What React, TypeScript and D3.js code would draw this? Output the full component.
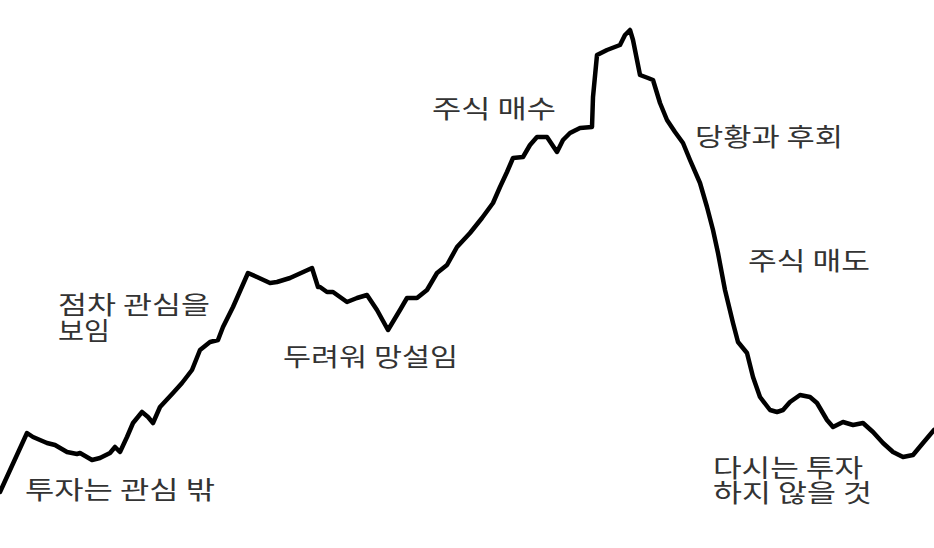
import React, { useEffect, useRef } from "react";
import * as d3 from "d3";

const W = 934;
const H = 548;

// price path (day, price)
const days = [
  0, 27, 33, 47, 55, 67, 77, 80, 92, 100, 110, 115, 120, 127, 133, 142, 148, 153, 160, 173,
  182, 192, 200, 210, 218, 223, 233, 248, 257, 270, 277, 290, 312, 318, 320, 327, 333, 347,
  357, 367, 377, 388, 400, 407, 417, 427, 437, 447, 457, 470, 482, 493, 500, 507, 513, 523,
  530, 537, 547, 557, 563, 570, 580, 592, 593, 597, 607, 620, 625, 630, 633, 640, 648, 653,
  660, 667, 675, 683, 690, 700, 707, 713, 718, 725, 733, 738, 747, 753, 760, 770, 777, 783,
  790, 800, 810, 817, 827, 833, 843, 853, 863, 873, 883, 893, 903, 913, 923, 934,
];
const prices = [
  56, 115, 111, 105, 103, 96, 94, 95, 88, 90, 95, 101, 96, 111, 125, 136, 131, 125, 141, 155,
  165, 178, 198, 206, 208, 221, 241, 275, 271, 265, 266, 270, 280, 261, 261, 256, 256, 246,
  250, 253, 238, 218, 238, 250, 250, 258, 275, 283, 301, 315, 330, 345, 361, 376, 390, 391,
  403, 411, 411, 396, 408, 415, 420, 421, 451, 493, 498, 503, 513, 518, 508, 473, 470, 468,
  445, 428, 416, 405, 388, 365, 341, 318, 295, 258, 225, 206, 195, 171, 151, 138, 136, 138,
  146, 153, 151, 145, 128, 121, 126, 123, 125, 116, 105, 96, 91, 93, 105, 118,
];

// annotations: text, anchor day, anchor price (baseline), text width in days
const noteText = [
  "투자는 관심 밖",
  "점차 관심을",
  "보임",
  "두려워 망설임",
  "주식 매수",
  "당황과 후회",
  "주식 매도",
  "다시는 투자",
  "하지 않을 것",
];
const noteDay = [25, 58, 58, 283, 432, 695, 748, 713, 713];
const notePrice = [49, 234, 208, 182, 430, 402, 278, 71, 46];
const noteSpan = [190, 152, 52, 175, 124, 148, 122, 150, 159];

export default function App() {
  const ref = useRef<SVGSVGElement | null>(null);

  useEffect(() => {
    if (!ref.current) return;
    const svg = d3.select(ref.current);
    svg.selectAll("*").remove();

    const x = d3.scaleLinear().domain([0, W]).range([0, W]);
    const y = d3.scaleLinear().domain([0, H]).range([H, 0]);

    svg.append("rect").attr("width", W).attr("height", H).attr("fill", "#fff");

    const pts = days.map((d, i) => [d, prices[i]] as [number, number]);
    const line = d3
      .line<[number, number]>()
      .x((d) => x(d[0]))
      .y((d) => y(d[1]));

    svg
      .append("path")
      .attr("d", line(pts))
      .attr("fill", "none")
      .attr("stroke", "#000")
      .attr("stroke-width", 4.5)
      .attr("stroke-linejoin", "round")
      .attr("stroke-linecap", "round");

    svg
      .selectAll("text.note")
      .data(noteText)
      .enter()
      .append("text")
      .attr("class", "note")
      .attr("x", (_, i) => x(noteDay[i]))
      .attr("y", (_, i) => y(notePrice[i]))
      .attr("textLength", (_, i) => x(noteSpan[i]) - x(0))
      .attr("lengthAdjust", "spacingAndGlyphs")
      .attr("font-family", "'Noto Sans CJK KR', 'Noto Sans', sans-serif")
      .attr("font-size", 25)
      .attr("fill", "#333")
      .text((d) => d);
  }, []);

  return (
    <svg
      ref={ref}
      width={W}
      height={H}
      style={{ position: "absolute", left: 0, top: 0, display: "block" }}
    />
  );
}
